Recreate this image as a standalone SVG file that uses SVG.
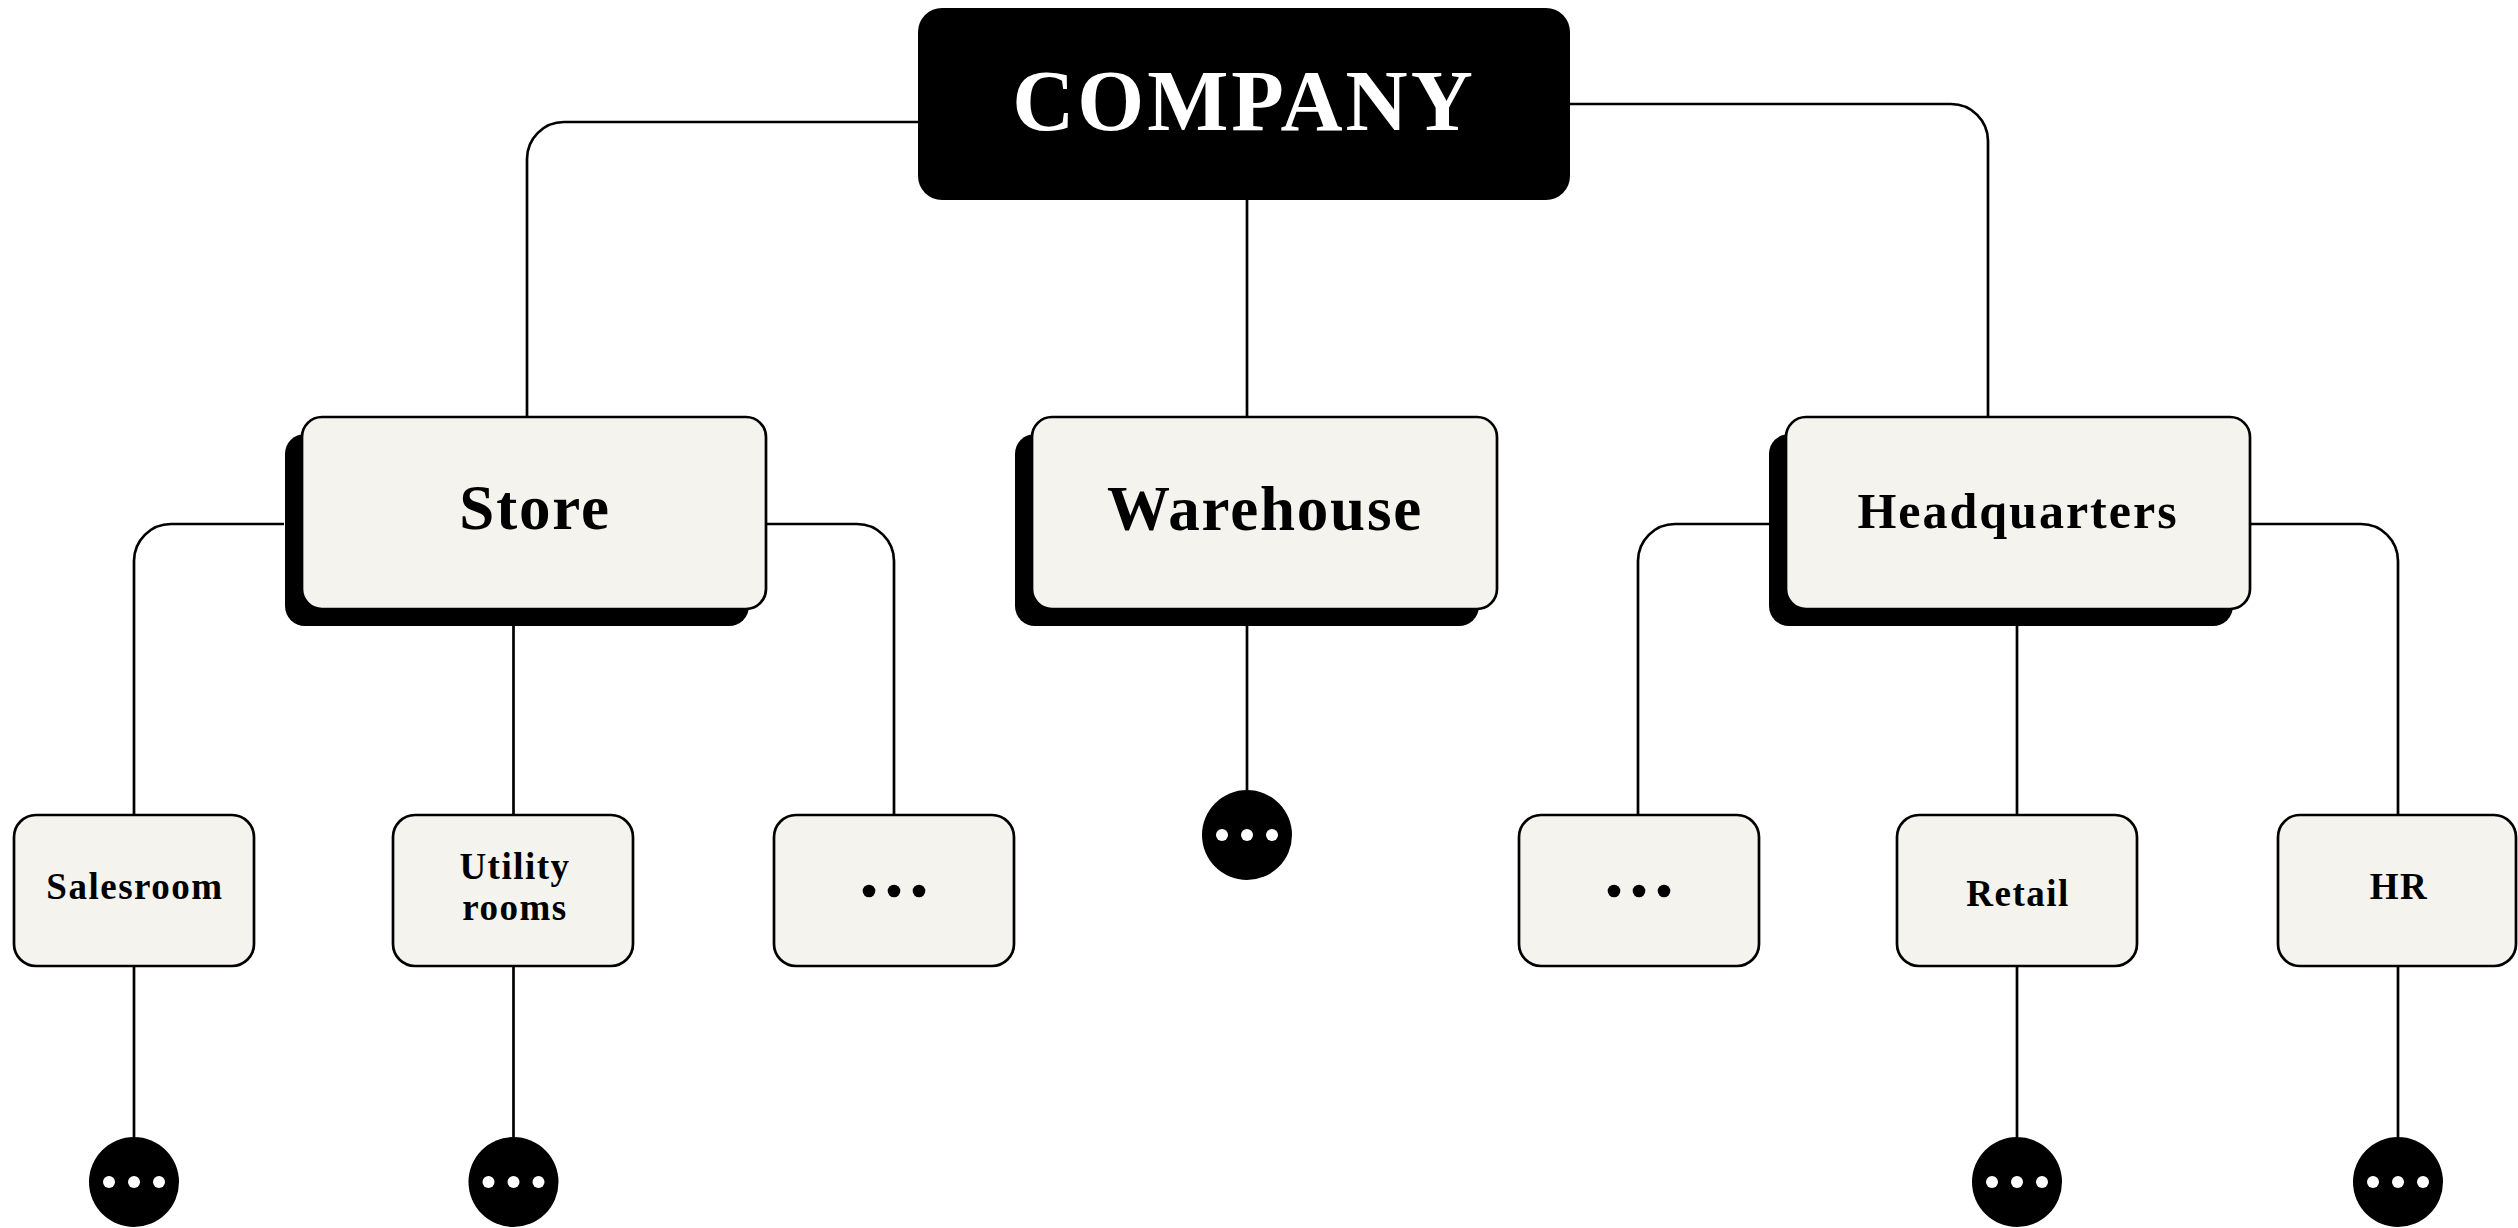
<svg xmlns="http://www.w3.org/2000/svg" width="2518" height="1228" viewBox="0 0 2518 1228">
<style>
.conn{fill:none;stroke:#000;stroke-width:2.7}
.box{fill:#F4F3EE;stroke:#000;stroke-width:2.7}
.shadow{fill:#000}
.l1{font-family:"Liberation Serif",serif;font-weight:700;font-size:63px;letter-spacing:1.8px;text-anchor:middle;fill:#000}
.l2{font-family:"Liberation Serif",serif;font-weight:700;font-size:37px;letter-spacing:1.5px;text-anchor:middle;fill:#000}
.title{font-family:"Liberation Serif",serif;font-weight:700;font-size:86px;letter-spacing:3px;text-anchor:middle;fill:#fff}
.more{fill:#000}
.wdot{fill:#fff}
</style>
<rect width="2518" height="1228" fill="#fff"/>
<g id="connectors">
<path class="conn" d="M918,122 H564 A37,37 0 0 0 527,159 V417"/>
<path class="conn" d="M1570,104 H1951 A37,37 0 0 1 1988,141 V417"/>
<path class="conn" d="M1247,200 V417"/>
<path class="conn" d="M284,524 H171 A37,37 0 0 0 134,561 V815"/>
<path class="conn" d="M513.5,626 V815"/>
<path class="conn" d="M766,524 H857 A37,37 0 0 1 894,561 V815"/>
<path class="conn" d="M1247,626 V790"/>
<path class="conn" d="M1769,524 H1675 A37,37 0 0 0 1638,561 V815"/>
<path class="conn" d="M2017,626 V815"/>
<path class="conn" d="M2250,524 H2361 A37,37 0 0 1 2398,561 V815"/>
<path class="conn" d="M134,966 V1137"/>
<path class="conn" d="M513.5,966 V1137"/>
<path class="conn" d="M2017,966 V1137"/>
<path class="conn" d="M2398,966 V1137"/>
</g>
<g id="company">
<rect x="918" y="8" width="652" height="192" rx="24" fill="#000"/>
<text class="title" x="1244" y="130">COMPANY</text>
</g>
<g id="store">
<rect class="shadow" x="285" y="434" width="464" height="192" rx="20"/>
<rect class="box" x="302" y="417" width="464" height="192" rx="20"/>
<text class="l1" x="535" y="529">Store</text>
</g>
<g id="warehouse">
<rect class="shadow" x="1015" y="434" width="464" height="192" rx="20"/>
<rect class="box" x="1032" y="417" width="465" height="192" rx="20"/>
<text class="l1" x="1265" y="530">Warehouse</text>
</g>
<g id="headquarters">
<rect class="shadow" x="1769" y="434" width="464" height="192" rx="20"/>
<rect class="box" x="1786" y="417" width="464" height="192" rx="20"/>
<text class="l1" x="2018" y="528" style="font-size:50px;letter-spacing:2px">Headquarters</text>
</g>
<g id="salesroom">
<rect class="box" x="14" y="815" width="240" height="151" rx="22"/>
<text class="l2" x="135" y="899">Salesroom</text>
</g>
<g id="utility-rooms">
<rect class="box" x="393" y="815" width="240" height="151" rx="22"/>
<text class="l2" x="515" y="879">Utility</text>
<text class="l2" x="515" y="920">rooms</text>
</g>
<g id="store-more">
<rect class="box" x="774" y="815" width="240" height="151" rx="22"/>
<circle class="more" cx="869" cy="891" r="6.3"/>
<circle class="more" cx="894" cy="891" r="6.3"/>
<circle class="more" cx="919" cy="891" r="6.3"/>
</g>
<g id="hq-more">
<rect class="box" x="1519" y="815" width="240" height="151" rx="22"/>
<circle class="more" cx="1614" cy="891" r="6.3"/>
<circle class="more" cx="1639" cy="891" r="6.3"/>
<circle class="more" cx="1664" cy="891" r="6.3"/>
</g>
<g id="retail">
<rect class="box" x="1897" y="815" width="240" height="151" rx="22"/>
<text class="l2" x="2018" y="906">Retail</text>
</g>
<g id="hr">
<rect class="box" x="2278" y="815" width="238" height="151" rx="22"/>
<text class="l2" x="2399" y="899">HR</text>
</g>
<g id="warehouse-more">
<circle class="more" cx="1247" cy="835" r="45"/>
<circle class="wdot" cx="1222" cy="835" r="6"/>
<circle class="wdot" cx="1247" cy="835" r="6"/>
<circle class="wdot" cx="1272" cy="835" r="6"/>
</g>
<g id="salesroom-more">
<circle class="more" cx="134" cy="1182" r="45"/>
<circle class="wdot" cx="109" cy="1182" r="6"/>
<circle class="wdot" cx="134" cy="1182" r="6"/>
<circle class="wdot" cx="159" cy="1182" r="6"/>
</g>
<g id="utility-more">
<circle class="more" cx="513.5" cy="1182" r="45"/>
<circle class="wdot" cx="488.5" cy="1182" r="6"/>
<circle class="wdot" cx="513.5" cy="1182" r="6"/>
<circle class="wdot" cx="538.5" cy="1182" r="6"/>
</g>
<g id="retail-more">
<circle class="more" cx="2017" cy="1182" r="45"/>
<circle class="wdot" cx="1992" cy="1182" r="6"/>
<circle class="wdot" cx="2017" cy="1182" r="6"/>
<circle class="wdot" cx="2042" cy="1182" r="6"/>
</g>
<g id="hr-more">
<circle class="more" cx="2398" cy="1182" r="45"/>
<circle class="wdot" cx="2373" cy="1182" r="6"/>
<circle class="wdot" cx="2398" cy="1182" r="6"/>
<circle class="wdot" cx="2423" cy="1182" r="6"/>
</g>
</svg>
